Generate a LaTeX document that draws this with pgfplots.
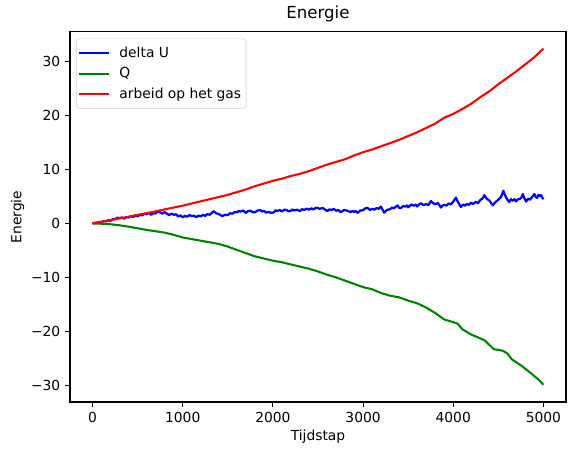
\documentclass[border=0pt]{standalone}
\usepackage{pgfplots}
\pgfplotsset{compat=1.18}
\usepackage{fontspec}
\setmainfont{DejaVu Sans}
\begin{document}
\begin{tikzpicture}
\begin{axis}[
  width=357bp, height=266.4bp, scale only axis,
  xmin=-250, xmax=5250, ymin=-33.1, ymax=35.5,
  xtick={0,1000,2000,3000,4000,5000},
  ytick={-30,-20,-10,0,10,20,30},
  yticklabels={−30,−20,−10,0,10,20,30},
  scaled x ticks=false,
  xticklabel style={/pgf/number format/1000 sep={}},
  /pgf/number format/assume math mode=true,
  tick align=outside, tick pos=left,
  major tick length=3.5bp,
  every tick/.style={black, line width=0.8bp},
  axis line style={line width=0.8bp},
  ticklabel style={font=\fontsize{10}{12}\selectfont},
  title={Energie}, title style={font=\fontsize{12}{14}\selectfont, yshift=-2bp},
  xlabel={Tijdstap}, ylabel={Energie},
  label style={font=\fontsize{10}{12}\selectfont},
  xlabel style={yshift=1bp},
  ylabel style={yshift=-2bp},
  legend style={at={(0.012,0.982)}, anchor=north west, draw=black!18, rounded corners=2pt,
    font=\fontsize{10}{12}\selectfont, row sep=2bp, inner xsep=1.5bp, inner ysep=3.5bp},
  legend cell align=left,
  legend image code/.code={\draw[#1] (0bp,0bp) -- (21bp,0bp); \path (0bp,0bp) (26bp,0bp);},
]
\addplot[blue, line width=1.6bp, line join=round] coordinates {
(0,0.0)(25,0.15)(50,0.1)(75,0.3)(100,0.25)(125,0.45)(150,0.4)(175,0.6)(200,0.5)(225,0.8)(250,0.8)(275,1.05)(300,1.0)(325,1.1)(350,0.9)(375,1.15)(400,1.1)(425,1.35)(450,1.2)(475,1.45)(500,1.3)(525,1.6)(550,1.5)(575,1.8)(600,1.7)(625,1.95)(650,1.6)(675,1.9)(700,1.85)(725,2.25)(750,2.05)(775,1.8)(800,2.1)(825,1.8)(850,1.55)(875,1.85)(900,1.6)(925,1.7)(950,1.3)(975,1.5)(1000,1.15)(1025,1.4)(1050,1.25)(1075,1.55)(1100,1.35)(1125,1.45)(1150,1.15)(1175,1.45)(1200,1.3)(1225,1.6)(1250,1.4)(1275,1.75)(1300,1.6)(1325,2.0)(1345,2.25)(1370,1.9)(1400,1.75)(1420,1.55)(1437,1.35)(1470,1.6)(1500,1.55)(1525,1.9)(1550,1.8)(1575,2.1)(1600,2.05)(1620,2.3)(1641,2.2)(1670,2.4)(1700,1.95)(1725,2.3)(1750,2.35)(1775,2.1)(1800,2.05)(1830,2.4)(1863,2.45)(1880,2.2)(1900,2.35)(1925,2.0)(1950,2.15)(1980,1.95)(2011,2.05)(2030,2.45)(2050,2.3)(2075,2.5)(2100,2.2)(2125,2.55)(2150,2.5)(2175,2.25)(2200,2.35)(2215,2.6)(2233,2.4)(2265,2.55)(2300,2.3)(2325,2.65)(2350,2.5)(2375,2.75)(2400,2.55)(2425,2.8)(2450,2.6)(2470,2.85)(2493,2.9)(2520,2.7)(2550,2.9)(2575,2.6)(2604,2.3)(2625,2.6)(2650,2.5)(2675,2.7)(2700,2.35)(2725,2.5)(2752,2.1)(2770,2.3)(2789,2.5)(2825,2.35)(2863,2.1)(2880,2.3)(2900,2.15)(2920,2.3)(2937,1.95)(2970,2.4)(3000,2.45)(3025,2.8)(3049,2.9)(3075,2.5)(3100,2.7)(3125,2.55)(3150,2.85)(3175,2.7)(3197,3.15)(3215,2.6)(3234,2.0)(3265,2.5)(3300,2.65)(3320,2.95)(3340,2.8)(3360,3.05)(3382,3.35)(3400,2.9)(3420,2.85)(3445,3.25)(3470,3.1)(3485,3.35)(3500,3.0)(3535,3.5)(3567,3.3)(3585,3.5)(3600,3.15)(3620,3.5)(3641,3.75)(3670,3.4)(3700,3.6)(3725,3.4)(3752,4.15)(3775,3.8)(3800,3.55)(3830,3.8)(3863,2.95)(3880,3.3)(3900,3.45)(3925,3.3)(3950,3.7)(3975,3.55)(4000,4.05)(4030,4.8)(4045,4.2)(4060,3.75)(4085,3.05)(4110,3.5)(4130,3.3)(4150,3.6)(4175,3.45)(4197,3.85)(4220,3.6)(4250,4.0)(4275,3.75)(4300,4.35)(4325,4.6)(4345,5.25)(4370,4.6)(4400,4.25)(4420,3.8)(4437,3.35)(4465,3.9)(4500,4.4)(4530,4.9)(4556,6.05)(4575,5.2)(4590,4.7)(4605,4.3)(4622,3.95)(4640,4.5)(4660,4.2)(4680,4.5)(4697,4.1)(4720,4.5)(4740,4.55)(4760,4.9)(4771,5.45)(4790,4.6)(4808,4.05)(4830,4.6)(4850,4.4)(4875,4.9)(4900,5.45)(4915,4.9)(4930,4.75)(4945,5.3)(4960,5.05)(4975,5.25)(4993,4.6)(5000,4.8)
};
\addlegendentry{delta U}
\addplot[black!50!green, line width=1.5bp, line join=round] coordinates {
(0,0)(100,-0.05)(200,-0.15)(300,-0.35)(400,-0.6)(500,-0.9)(600,-1.2)(700,-1.45)(800,-1.7)(900,-2.1)
(1000,-2.6)(1100,-2.9)(1200,-3.2)(1300,-3.5)(1400,-3.8)(1500,-4.3)(1600,-4.9)(1700,-5.5)(1800,-6.1)(1900,-6.5)
(2000,-6.9)(2100,-7.2)(2200,-7.6)(2300,-8.0)(2400,-8.4)(2500,-8.9)(2600,-9.5)(2700,-10.0)(2800,-10.6)(2900,-11.2)
(3000,-11.8)(3100,-12.2)(3200,-12.9)(3300,-13.4)(3400,-13.7)(3500,-14.3)(3600,-14.8)(3700,-15.6)(3800,-16.6)(3900,-17.8)
(4000,-18.3)(4050,-18.6)(4100,-19.6)(4200,-20.6)(4300,-21.3)(4350,-21.7)(4450,-23.3)(4550,-23.6)(4600,-24.1)(4650,-25.2)
(4750,-26.3)(4850,-27.6)(4950,-29.0)(5000,-29.9)
};
\addlegendentry{Q}
\addplot[red, line width=1.5bp, line join=round] coordinates {
(0,0)(100,0.3)(200,0.6)(300,0.95)(400,1.25)(500,1.6)(600,1.9)(700,2.25)(800,2.6)(900,2.95)
(1000,3.3)(1100,3.7)(1200,4.1)(1300,4.5)(1400,4.9)(1500,5.3)(1600,5.8)(1700,6.3)(1800,6.9)(1900,7.4)
(2000,7.9)(2100,8.3)(2200,8.8)(2300,9.2)(2400,9.7)(2500,10.3)(2600,10.9)(2700,11.4)(2800,11.9)(2900,12.6)
(3000,13.2)(3100,13.7)(3200,14.3)(3300,14.9)(3400,15.5)(3500,16.2)(3600,16.9)(3700,17.7)(3800,18.5)(3900,19.6)
(4000,20.3)(4100,21.2)(4200,22.2)(4300,23.4)(4400,24.5)(4500,25.8)(4600,27.0)(4700,28.2)(4800,29.5)(4900,30.8)
(5000,32.4)
};
\addlegendentry{arbeid op het gas}
\end{axis}
\pgfresetboundingbox
\useasboundingbox (current axis.south west)++(-50.4bp,-38.2bp) rectangle ([shift={(5.8bp,23bp)}]current axis.north east);
\end{tikzpicture}
\end{document}
